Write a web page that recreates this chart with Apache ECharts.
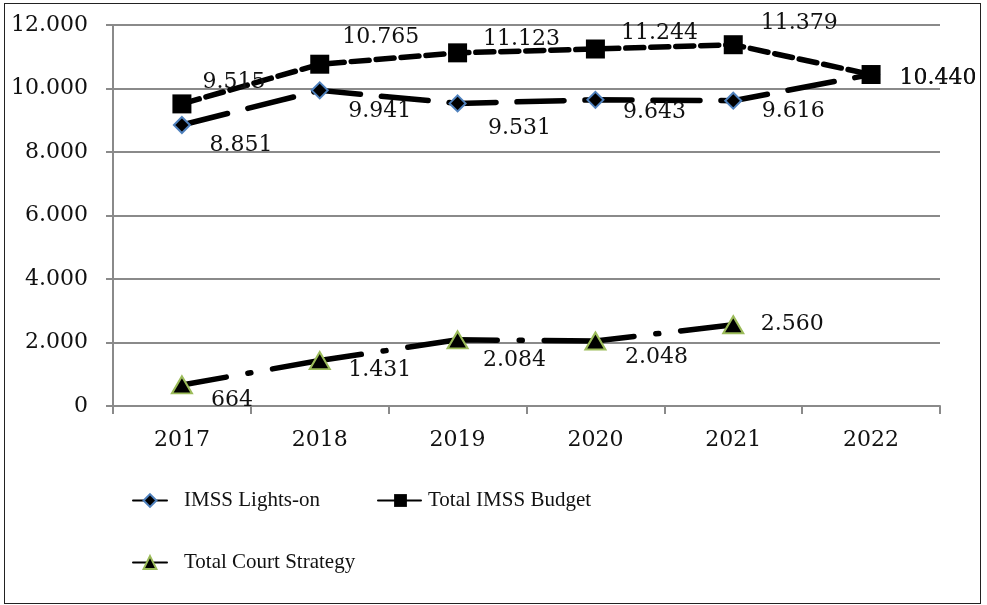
<!DOCTYPE html>
<html>
<head>
<meta charset="utf-8">
<script src="https://cdn.jsdelivr.net/npm/echarts@6/dist/echarts.min.js"></script>
<style>
  html, body { margin: 0; padding: 0; background: #fff; }
  #frame { position: absolute; left: 4px; top: 3px; width: 977px; height: 601px; border: 1.5px solid #222; box-sizing: border-box; }
  #main { position: absolute; left: 0; top: 0; width: 987px; height: 605px; }
</style>
</head>
<body>
<div id="frame"></div>
<div id="main"></div>
<script>
const years = ['2017', '2018', '2019', '2020', '2021', '2022'];
const lightsOn = [8851, 9941, 9531, 9643, 9616, 10440];
const imssBudget = [9515, 10765, 11123, 11244, 11379, 10440];
const courtStrategy = [664, 1431, 2084, 2048, 2560];

// desplazamiento de cada etiqueta respecto a su punto (solo maquetacion)
const lightsOnLabelOffset = [[59, 20], [60, 21], [62, 25], [59, 12], [60, 11], [67, 4]];
const budgetLabelOffset = [[52, -22], [61, -27], [64, -14], [64, -16], [66, -21], [67, 4]];
const courtLabelOffset = [[50, 15], [60, 10], [57, 20], [61, 16], [59, 0]];

const serif = 'DejaVu Serif';
const fmt = v => String(v).replace(/\B(?=(\d{3})+(?!\d))/g, '.');

const chart = echarts.init(document.getElementById('main'), null, { renderer: 'canvas' });

function withLabels(values, offsets) {
  return values.map((v, i) => ({ value: v, label: { offset: offsets[i] } }));
}

const labelBase = {
  show: true,
  position: 'inside',
  fontFamily: serif,
  fontSize: 22,
  color: '#111',
  formatter: p => fmt(p.value)
};

const legendText = {
  fontFamily: 'Liberation Serif',
  fontSize: 21,
  color: '#111',
  padding: [0, 0, 0, 12]
};

chart.setOption({
  animation: false,
  grid: { left: 113, right: 47, top: 25, bottom: 199 },
  xAxis: {
    type: 'category',
    data: years,
    boundaryGap: true,
    axisLine: { lineStyle: { color: '#8a8a8a', width: 2 } },
    axisTick: { show: true, length: 8, lineStyle: { color: '#8a8a8a', width: 2 } },
    axisLabel: { fontFamily: serif, fontSize: 22, color: '#111', margin: 23 }
  },
  yAxis: {
    type: 'value',
    min: 0,
    max: 12000,
    interval: 2000,
    axisLine: { show: true, lineStyle: { color: '#8a8a8a', width: 2 } },
    axisTick: { show: true, length: 7, lineStyle: { color: '#8a8a8a', width: 2 } },
    splitLine: { lineStyle: { color: '#8a8a8a', width: 2 } },
    axisLabel: { fontFamily: serif, fontSize: 22, color: '#111', margin: 25, formatter: v => fmt(v) }
  },
  legend: [
    {
      data: ['IMSS Lights-on'],
      left: 132, top: 490, padding: 0,
      itemWidth: 34, itemHeight: 16,
      textStyle: legendText
    },
    {
      data: ['Total IMSS Budget'],
      left: 377, top: 490, padding: 0,
      itemWidth: 45, itemHeight: 16,
      textStyle: Object.assign({}, legendText, { padding: [0, 0, 0, 0] })
    },
    {
      data: ['Total Court Strategy'],
      left: 132, top: 552, padding: 0,
      itemWidth: 34, itemHeight: 16,
      textStyle: legendText
    }
  ],
  series: [
    {
      name: 'IMSS Lights-on',
      type: 'line',
      data: withLabels(lightsOn, lightsOnLabelOffset),
      symbol: 'diamond',
      symbolSize: 16,
      itemStyle: { color: '#000', borderColor: '#4f81bd', borderWidth: 2 },
      lineStyle: { color: '#000', width: 5.5, type: [47, 21], cap: 'round' },
      label: labelBase,
      z: 2
    },
    {
      name: 'Total IMSS Budget',
      type: 'line',
      data: withLabels(imssBudget, budgetLabelOffset),
      symbol: 'rect',
      symbolSize: 19,
      itemStyle: { color: '#000', borderColor: '#000', borderWidth: 0 },
      lineStyle: { color: '#000', width: 5.5, type: [18, 7], cap: 'round' },
      label: labelBase,
      z: 3
    },
    {
      name: 'Total Court Strategy',
      type: 'line',
      data: withLabels(courtStrategy, courtLabelOffset),
      symbol: 'triangle',
      symbolSize: [20, 17],
      itemStyle: { color: '#000', borderColor: '#9bbb59', borderWidth: 2 },
      lineStyle: { color: '#000', width: 5.5, type: [90, 22, 3, 22], dashOffset: 45, cap: 'round' },
      label: labelBase,
      z: 2
    }
  ]
});
</script>
</body>
</html>
